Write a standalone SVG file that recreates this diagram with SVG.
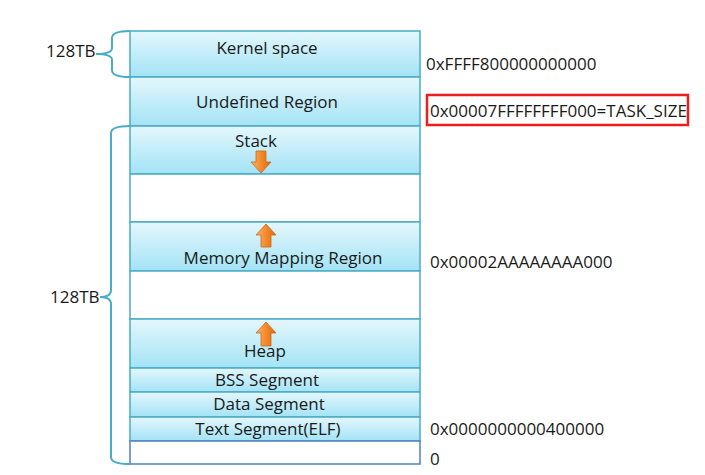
<svg xmlns="http://www.w3.org/2000/svg" width="705" height="475" viewBox="0 0 705 475">
<defs>
<linearGradient id="cyan" x1="0" y1="0" x2="0" y2="1">
<stop offset="0" stop-color="#e4f7fc"/>
<stop offset="1" stop-color="#a3e3f6"/>
</linearGradient>
<linearGradient id="orange" x1="0" y1="0" x2="1" y2="0">
<stop offset="0" stop-color="#fbb26b"/>
<stop offset="0.5" stop-color="#f58a2b"/>
<stop offset="1" stop-color="#d9690f"/>
</linearGradient>
</defs>
<style>
.seg{fill:url(#cyan);stroke:#4bacc6;stroke-width:1.5}
.gap{fill:#ffffff;stroke:#4bacc6;stroke-width:1.5}
.lbl{font-family:"Open Sans","Noto Sans",sans-serif;font-size:17px;fill:#1a1a1a;text-anchor:middle}
.addr{font-family:"Open Sans","Noto Sans",sans-serif;font-size:17px;fill:#1a1a1a}
.brace{fill:none;stroke:#4bacc6;stroke-width:2}
.arrow{fill:url(#orange);stroke:#c96a1a;stroke-width:0.8}
</style>
<rect width="705" height="475" fill="#ffffff"/>
<g id="kernel"><rect class="seg" x="130" y="31" width="290" height="46"/><text class="lbl" x="267" y="54">Kernel space</text></g>
<g id="undefined"><rect class="seg" x="130" y="77" width="290" height="49"/><text class="lbl" x="267" y="108">Undefined Region</text></g>
<g id="stack"><rect class="seg" x="130" y="126" width="290" height="48"/><text class="lbl" x="256" y="147">Stack</text>
<path class="arrow" d="M256,151 h10 v11 h5 l-10,11 l-10,-11 h5 z"/></g>
<g id="gap1"><rect class="gap" x="130" y="174" width="290" height="48"/></g>
<g id="mmap"><rect class="seg" x="130" y="222" width="290" height="49"/><text class="lbl" x="283" y="264">Memory Mapping Region</text>
<path class="arrow" d="M266,224 l10,11 h-5 v12 h-10 v-12 h-5 z"/></g>
<g id="gap2"><rect class="gap" x="130" y="271" width="290" height="48"/></g>
<g id="heap"><rect class="seg" x="130" y="319" width="290" height="49"/><text class="lbl" x="265" y="357">Heap</text>
<path class="arrow" d="M266,322 l10,11 h-5 v13 h-10 v-13 h-5 z"/></g>
<g id="bss"><rect class="seg" x="130" y="368" width="290" height="24"/><text class="lbl" x="267" y="386">BSS Segment</text></g>
<g id="data"><rect class="seg" x="130" y="392" width="290" height="25"/><text class="lbl" x="269" y="410">Data Segment</text></g>
<g id="text"><rect class="seg" x="130" y="417" width="290" height="24"/><text class="lbl" x="268" y="435">Text Segment(ELF)</text></g>
<g id="bottom"><rect x="130" y="441" width="290" height="23" fill="#ffffff" stroke="#4f81bd" stroke-width="1.5"/></g>
<g id="connectors">
<path class="brace" d="M130,31 Q112,31 112,38 L112,48 Q112,54 96,54 Q112,54 112,60 L112,70 Q112,77 130,77"/>
<path class="brace" d="M130,126 Q111,126 111,133 L111,290 Q111,297 100,297 Q111,297 111,304 L111,457 Q111,464 130,464"/>
</g>
<g id="labels">
<text class="addr" x="46" y="57">128TB</text>
<text class="addr" x="50" y="303">128TB</text>
<text class="addr" x="426" y="70">0xFFFF800000000000</text>
<rect x="427" y="95" width="261" height="30" fill="none" stroke="#ee1c1c" stroke-width="2.5"/>
<text class="addr" x="430" y="117">0x00007FFFFFFFF000=TASK_SIZE</text>
<text class="addr" x="430" y="268">0x00002AAAAAAAA000</text>
<text class="addr" x="430" y="435">0x0000000000400000</text>
<text class="addr" x="430" y="465">0</text>
</g>
</svg>
